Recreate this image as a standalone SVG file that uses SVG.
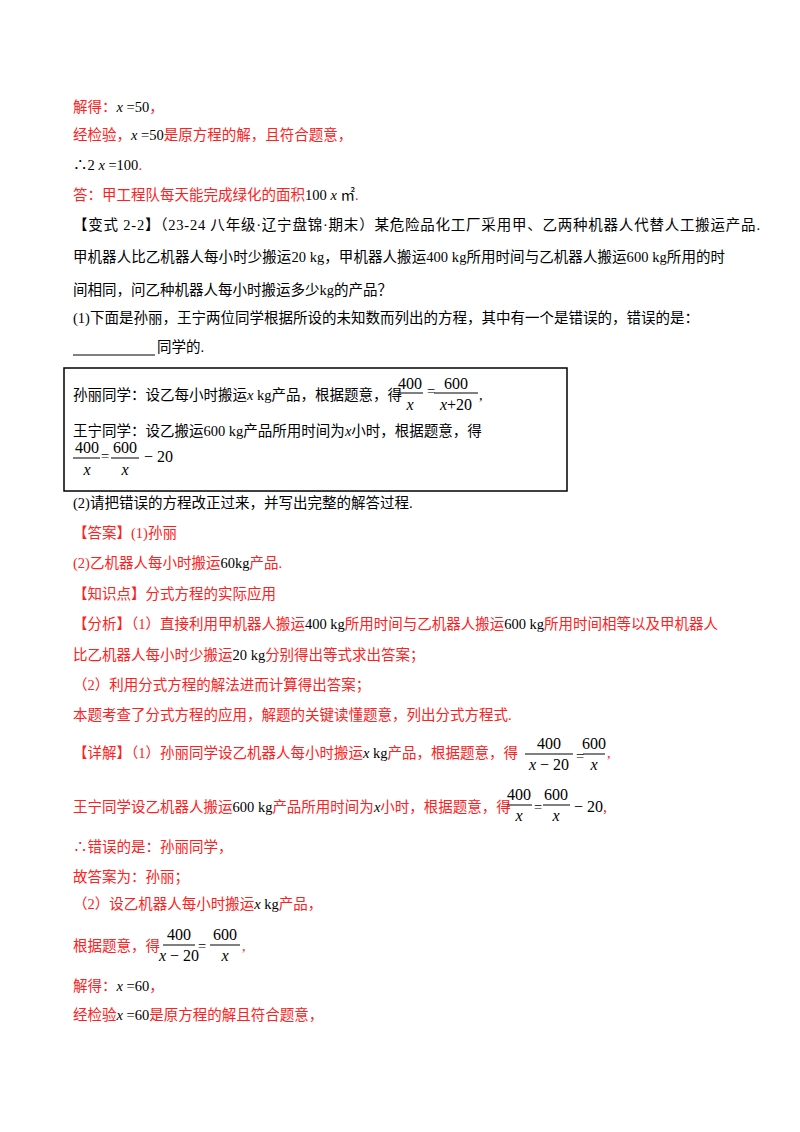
<svg xmlns="http://www.w3.org/2000/svg" width="800" height="1132" viewBox="0 0 800 1132">
<style>
text{font-family:"Liberation Serif","Noto Sans CJK SC",serif;font-size:14.5px;fill:#000}
.r{fill:#ff2020}
.i{font-style:italic}
.c{text-anchor:middle;font-size:16px}
.bar{stroke:#000;stroke-width:1}
</style>
<rect width="800" height="1132" fill="#fff"/>
<text x="73" y="112" class="r">解得：<tspan class="i" fill="#000">x</tspan><tspan fill="#000"> =50</tspan>，</text>
<text x="73" y="140" class="r">经检验，<tspan class="i" fill="#000">x</tspan><tspan fill="#000"> =50</tspan>是原方程的解，且符合题意，</text>
<text x="73" y="170">∴2 <tspan class="i">x</tspan> =100<tspan class="r">.</tspan></text>
<text x="73" y="200" class="r">答：甲工程队每天能完成绿化的面积<tspan fill="#000">100 <tspan class="i">x</tspan> ㎡</tspan>.</text>
<text x="73" y="230" textLength="687">【变式 2-2】（23-24 八年级·辽宁盘锦·期末）某危险品化工厂采用甲、乙两种机器人代替人工搬运产品.</text>
<text x="73" y="262" textLength="652">甲机器人比乙机器人每小时少搬运20 kg，甲机器人搬运400 kg所用时间与乙机器人搬运600 kg所用的时</text>
<text x="73" y="295">间相同，问乙种机器人每小时搬运多少kg的产品？</text>
<text x="73" y="323">(1)下面是孙丽，王宁两位同学根据所设的未知数而列出的方程，其中有一个是错误的，错误的是：</text>
<line x1="73" y1="355" x2="155" y2="355" class="bar"/>
<text x="157" y="352">同学的.</text>
<g id="box">
<rect x="64" y="368" width="503" height="123" fill="none" stroke="#000" stroke-width="1.5"/>
<text x="73" y="400">孙丽同学：设乙每小时搬运<tspan class="i">x</tspan> kg产品，根据题意，得</text>
<text x="410" y="389" class="c">400</text><line x1="398" y1="393" x2="423" y2="393" class="bar"/><text x="410" y="410" class="c i">x</text>
<text x="427" y="396">=</text>
<text x="456" y="389" class="c">600</text><line x1="434" y1="393" x2="478" y2="393" class="bar"/><text x="456" y="410" class="c"><tspan class="i">x</tspan>+20</text>
<text x="479" y="400">,</text>
<text x="73" y="436">王宁同学：设乙搬运600 kg产品所用时间为<tspan class="i">x</tspan>小时，根据题意，得</text>
<text x="87" y="453" class="c">400</text><line x1="73" y1="458" x2="100" y2="458" class="bar"/><text x="87" y="475" class="c i">x</text>
<text x="101" y="461">=</text>
<text x="125" y="453" class="c">600</text><line x1="111" y1="458" x2="139" y2="458" class="bar"/><text x="125" y="475" class="c i">x</text>
<text x="144" y="462" style="font-size:16px">− 20</text>
</g>
<text x="73" y="508">(2)请把错误的方程改正过来，并写出完整的解答过程.</text>
<text x="73" y="538" class="r">【答案】(1)孙丽</text>
<text x="73" y="568" class="r">(2)乙机器人每小时搬运<tspan fill="#000">60kg</tspan>产品.</text>
<text x="73" y="599" class="r">【知识点】分式方程的实际应用</text>
<text x="73" y="629" class="r" textLength="645">【分析】（1）直接利用甲机器人搬运<tspan fill="#000">400 kg</tspan>所用时间与乙机器人搬运<tspan fill="#000">600 kg</tspan>所用时间相等以及甲机器人</text>
<text x="73" y="660" class="r">比乙机器人每小时少搬运<tspan fill="#000">20 kg</tspan>分别得出等式求出答案；</text>
<text x="73" y="690" class="r">（2）利用分式方程的解法进而计算得出答案；</text>
<text x="73" y="720" class="r">本题考查了分式方程的应用，解题的关键读懂题意，列出分式方程式.</text>
<text x="73" y="758" class="r">【详解】（1）孙丽同学设乙机器人每小时搬运<tspan class="i" fill="#000">x</tspan><tspan fill="#000"> kg</tspan>产品，根据题意，得</text>
<text x="549" y="749" class="c">400</text><line x1="525" y1="754" x2="573" y2="754" class="bar"/><text x="549" y="770" class="c"><tspan class="i">x</tspan> − 20</text>
<text x="576" y="761">=</text>
<text x="594" y="749" class="c">600</text><line x1="583" y1="754" x2="605" y2="754" class="bar"/><text x="594" y="770" class="c i">x</text>
<text x="607" y="758" class="r">,</text>
<text x="73" y="812" class="r">王宁同学设乙机器人搬运<tspan fill="#000">600 kg</tspan>产品所用时间为<tspan class="i" fill="#000">x</tspan>小时，根据题意，得</text>
<text x="519" y="800" class="c">400</text><line x1="507" y1="805" x2="532" y2="805" class="bar"/><text x="519" y="821" class="c i">x</text>
<text x="534" y="812">=</text>
<text x="556" y="800" class="c">600</text><line x1="543" y1="805" x2="570" y2="805" class="bar"/><text x="556" y="821" class="c i">x</text>
<text x="574" y="812" style="font-size:16px">− 20<tspan class="r">,</tspan></text>
<text x="73" y="852" class="r">∴错误的是：孙丽同学，</text>
<text x="73" y="882" class="r">故答案为：孙丽；</text>
<text x="73" y="909" class="r">（2）设乙机器人每小时搬运<tspan class="i" fill="#000">x</tspan><tspan fill="#000"> kg</tspan>产品，</text>
<text x="73" y="951" class="r">根据题意，得</text>
<text x="179" y="940" class="c">400</text><line x1="163" y1="945" x2="195" y2="945" class="bar"/><text x="179" y="961" class="c"><tspan class="i">x</tspan> − 20</text>
<text x="198" y="951">=</text>
<text x="225" y="940" class="c">600</text><line x1="210" y1="945" x2="240" y2="945" class="bar"/><text x="225" y="961" class="c i">x</text>
<text x="242" y="951" class="r">,</text>
<text x="73" y="991" class="r">解得：<tspan class="i" fill="#000">x</tspan><tspan fill="#000"> =60</tspan>，</text>
<text x="73" y="1020" class="r">经检验<tspan class="i" fill="#000">x</tspan><tspan fill="#000"> =60</tspan>是原方程的解且符合题意，</text>
</svg>
